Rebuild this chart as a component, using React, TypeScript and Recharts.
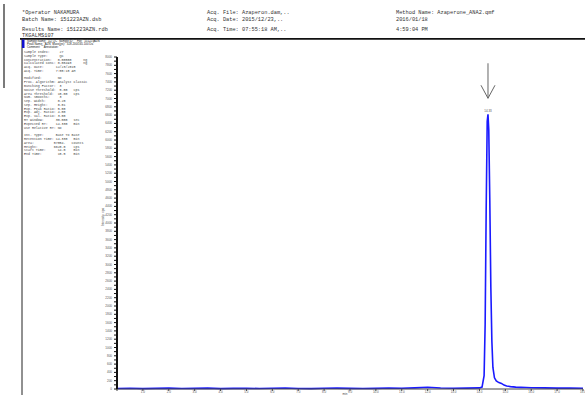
import * as React from "react";
import { LineChart, Line, XAxis, YAxis, ReferenceDot } from "recharts";

// retention time (min) and intensity (cps)
const rtMin = [
  0, 0.5, 1, 1.5, 2, 2.5, 3, 3.5, 4, 4.5, 5, 5.5, 6, 6.5, 7, 7.5, 8, 8.5, 9, 9.5,
  10, 10.5, 11, 11.5, 12, 12.5, 13, 13.5, 14, 14.1, 14.18, 14.22, 14.26, 14.3,
  14.33, 14.36, 14.4, 14.44, 14.48, 14.52, 14.58, 14.65, 14.75, 14.85, 14.95,
  15.05, 15.2, 15.4, 15.6, 15.8, 16, 16.5, 17, 17.5, 18,
];
const intensity = [
  12, 18, 9, 15, 20, 11, 16, 22, 10, 14, 19, 12, 17, 24, 13, 9, 18, 21, 14, 11,
  16, 23, 19, 28, 42, 25, 18, 22, 26, 45, 320, 1550, 4300, 6450, 6620, 6250,
  4550, 2450, 1150, 520, 270, 195, 155, 135, 95, 72, 58, 46, 40, 35, 30, 26, 22,
  20, 18,
];

const xTicks = [0, 1, 2, 3, 4, 5, 6, 7, 8, 9, 10, 11, 12, 13, 14, 15, 16, 17, 18];
const yTicks = Array.from({ length: 81 }, (_, i) => i * 100);

const headerLeft = [
  "*Operator NAKAMURA",
  "Batch Name: 151223AZN.dsb",
  "Results Name: 151223AZN.rdb",
  "TKGALMS107",
];
const headerMid = [
  "Acq. File: Azaperon.dam,..",
  "Acq. Date: 2015/12/23,..",
  "Acq. Time: 07:55:18 AM,..",
];
const headerRight = ["Method Name: Azaperone_ANA2.qmf", "2016/01/18", "4:59:04 PM"];

const sampleHeader = [
  'Sample Name: "1/2 QC"  Sample ID: ""  File: "151223AZN"',
  'Peak Name: "AZN"   Mass(es): "328.200/165.100 Da"',
  'Comment: ""   Annotation: ""',
];

const sampleInfo = [
  "Sample Index:     27",
  "Sample Type:      QC",
  "Concentration:   0.00500      ng",
  "Calculated Conc: 0.00493      ng",
  "Acq. Date:      12/23/2015",
  "Acq. Time:      7:55:18 AM",
  "",
  "Modified:        No",
  "Proc. Algorithm: Analyst Classic",
  "Bunching Factor:  3",
  "Noise Threshold:  5.00   cps",
  "Area Threshold:  15.00   cps",
  "Num. Smooths:     3",
  "Sep. Width:      0.20",
  "Sep. Height:     0.01",
  "Exp. Peak Ratio: 5.00",
  "Exp. Adj. Ratio: 4.00",
  "Exp. Val. Ratio: 3.00",
  "RT Window:      30.000   sec",
  "Expected RT:    14.330   min",
  "Use Relative RT: No",
  "",
  "Int. Type:      Base To Base",
  "Retention Time: 14.330   min",
  "Area:          57854.   counts",
  "Height:        6620.0    cps",
  "Start Time:      14.0    min",
  "End Time:        15.5    min",
];

const MONO = '"Liberation Mono", "DejaVu Sans Mono", monospace';
const HEAD_Y = [14, 21, 30.5, 37];

const rows = rtMin.map((t, i) => ({ t, v: intensity[i] }));
const peakIdx = intensity.indexOf(Math.max(...intensity));

function PeakMarker(props: any) {
  const { cx, cy } = props;
  if (cx == null || cy == null) return null;
  return (
    <g>
      <text x={cx} y={cy - 2} textAnchor="middle" fontSize={3} fill="#555" fontFamily="Arial, sans-serif">
        {rtMin[peakIdx].toFixed(2)}
      </text>
      <line x1={cx} y1={cy - 51} x2={cx} y2={cy - 16} stroke="#666" strokeWidth={1} />
      <line x1={cx - 7} y1={cy - 29} x2={cx} y2={cy - 16} stroke="#666" strokeWidth={1} />
      <line x1={cx + 7} y1={cy - 29} x2={cx} y2={cy - 16} stroke="#666" strokeWidth={1} />
    </g>
  );
}

export default function App() {
  return (
    <div style={{ position: "fixed", left: 0, top: 0, width: 585, height: 396, background: "#fff" }}>
      <svg width={585} height={396} style={{ position: "absolute", left: 0, top: 0 }}>
        <line x1={4} y1={4} x2={4} y2={88} stroke="#222" strokeWidth={1.2} />
        <line x1={20} y1={38.8} x2={585} y2={38.8} stroke="#111" strokeWidth={1.8} />
        <line x1={22} y1={38} x2={22} y2={395} stroke="#222" strokeWidth={1} />
        <rect x={22} y={39.5} width={2.5} height={8.5} fill="#1010d0" />
        {headerLeft.map((s, i) => (
          <text key={s} x={22} y={HEAD_Y[i]} fontSize={5.3} fontFamily={MONO} fill="#333">
            {s}
          </text>
        ))}
        {headerMid.map((s, i) => (
          <text key={s} x={207} y={HEAD_Y[i]} fontSize={5.3} fontFamily={MONO} fill="#333">
            {s}
          </text>
        ))}
        {headerRight.map((s, i) => (
          <text key={s} x={396} y={HEAD_Y[i]} fontSize={5.3} fontFamily={MONO} fill="#333">
            {s}
          </text>
        ))}
        {sampleHeader.map((s, i) => (
          <text key={s} x={27} y={41.8 + i * 3.3} fontSize={2.9} fontFamily="Arial, sans-serif" fill="#222">
            {s}
          </text>
        ))}
        {sampleInfo.map((s, i) => (
          <text key={i} x={24} y={53 + i * 3.78} fontSize={3.3} fontFamily={MONO} fill="#444" xmlSpace="preserve">
            {s}
          </text>
        ))}
        <text
          x={104}
          y={217}
          fontSize={3.2}
          fontFamily="Arial, sans-serif"
          fill="#444"
          textAnchor="middle"
          transform="rotate(-90 104 217)"
        >
          Intensity, cps
        </text>
        <text x={345} y={395} fontSize={3} fontFamily="Arial, sans-serif" fill="#444" textAnchor="middle">
          min
        </text>
      </svg>
      <div style={{ position: "absolute", left: 0, top: 0 }}>
        <LineChart width={585} height={396} data={rows} margin={{ top: 57, right: 2, bottom: 0, left: 0 }}>
          <XAxis
            type="number"
            dataKey="t"
            domain={[0, 18]}
            ticks={xTicks}
            interval={0}
            height={7}
            tickSize={2}
            tickMargin={0}
            tickFormatter={(v) => (v === 0 ? "" : Number(v).toFixed(1))}
            tick={{ fontSize: 3, fill: "#555", fontFamily: "Arial, sans-serif" }}
            axisLine={{ stroke: "#444" }}
            tickLine={{ stroke: "#444" }}
          />
          <YAxis
            type="number"
            domain={[0, 8000]}
            ticks={yTicks}
            interval={0}
            width={117}
            tickSize={3}
            tickMargin={2}
            tickFormatter={(v) => (Number(v) % 200 === 0 ? String(v) : "")}
            tick={{ fontSize: 3, fill: "#555", fontFamily: "Arial, sans-serif" }}
            axisLine={{ stroke: "#111", strokeWidth: 2 }}
            tickLine={{ stroke: "#111" }}
          />
          <Line
            type="linear"
            dataKey="v"
            stroke="#1a1aff"
            strokeWidth={1.6}
            dot={false}
            isAnimationActive={false}
          />
          <ReferenceDot x={rtMin[peakIdx]} y={intensity[peakIdx]} shape={PeakMarker} />
        </LineChart>
      </div>
    </div>
  );
}
